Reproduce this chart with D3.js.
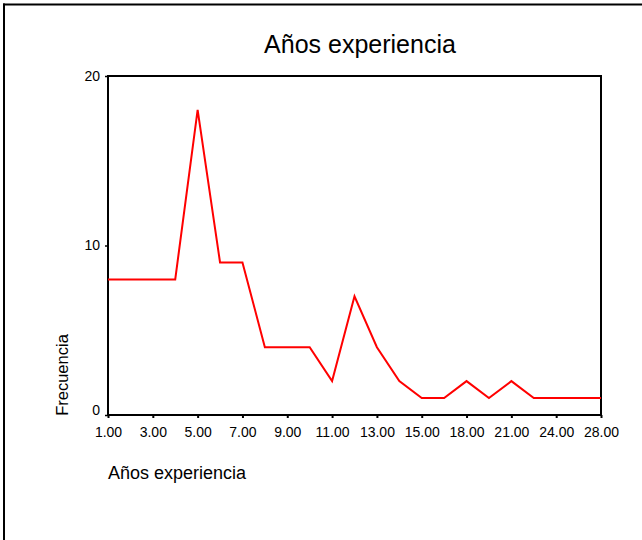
<!DOCTYPE html>
<html>
<head>
<meta charset="utf-8">
<script src="https://cdn.jsdelivr.net/npm/d3@7/dist/d3.min.js"></script>
<style>
  html, body { margin: 0; padding: 0; background: #fff; }
  svg { display: block; }
  text { font-family: "Liberation Sans", Arial, sans-serif; fill: #000; }
</style>
</head>
<body>
<svg id="chart" width="642" height="540"></svg>
<script>
// Data
const categories = [1, 2, 3, 4, 5, 6, 7, 8, 9, 10, 11, 12, 13, 14, 15, 16, 18, 20, 21, 22, 24, 25, 28];
const frequencies = [8, 8, 8, 8, 18, 9, 9, 4, 4, 4, 2, 7, 4, 2, 1, 1, 2, 1, 2, 1, 1, 1, 1];
const xTickLabels = [1, 3, 5, 7, 9, 11, 13, 15, 18, 21, 24, 28];
const yTicks = [0, 10, 20];
const titleText = "Años experiencia";
const xTitle = "Años experiencia";
const yTitle = "Frecuencia";

const svg = d3.select("#chart");
const W = 642, H = 540;
const plot = { left: 108, right: 601, top: 76, bottom: 415 };

// Outer border (top and left only visible)
svg.append("line").attr("x1", 3).attr("x2", W).attr("y1", 4.5).attr("y2", 4.5)
  .attr("stroke", "#000").attr("stroke-width", 2);
svg.append("line").attr("x1", 4).attr("x2", 4).attr("y1", 3.5).attr("y2", H)
  .attr("stroke", "#000").attr("stroke-width", 2);

const x = d3.scalePoint().domain(categories).range([plot.left, plot.right]).padding(0);
const y = d3.scaleLinear().domain([0, 20]).range([plot.bottom, plot.top]);

// Title
svg.append("text").attr("x", 360).attr("y", 53).attr("text-anchor", "middle")
  .style("font-size", "25px").text(titleText);

// X axis
const xAxis = d3.axisBottom(x).tickValues(xTickLabels)
  .tickFormat(d3.format(".2f")).tickSize(3).tickPadding(9);
const gx = svg.append("g").attr("transform", `translate(0,${plot.bottom})`).call(xAxis);
gx.select(".domain").remove();
gx.selectAll(".tick line").attr("stroke", "#000").attr("stroke-width", 2);
gx.selectAll(".tick text").style("font-size", "14px").style("font-family", "'Liberation Sans', Arial, sans-serif");

// Y axis
const yAxis = d3.axisLeft(y).tickValues(yTicks).tickSize(3).tickPadding(5).tickFormat(d3.format("d"));
const gy = svg.append("g").attr("transform", `translate(${plot.left},0)`).call(yAxis);
gy.select(".domain").remove();
gy.selectAll(".tick line").attr("stroke", "#000").attr("stroke-width", 1.5);
gy.selectAll(".tick text").style("font-size", "14px").style("font-family", "'Liberation Sans', Arial, sans-serif");
gy.selectAll(".tick").filter(d => d === 0).select("text").attr("dy", "-0.05em");

// Plot frame
svg.append("rect")
  .attr("x", plot.left).attr("y", plot.top)
  .attr("width", plot.right - plot.left).attr("height", plot.bottom - plot.top)
  .attr("fill", "none").attr("stroke", "#000").attr("stroke-width", 2);

// Line
const line = d3.line().x((d, i) => x(categories[i])).y(d => y(d));
svg.append("path").datum(frequencies)
  .attr("d", line).attr("fill", "none")
  .attr("stroke", "#ff0000").attr("stroke-width", 2).attr("stroke-linejoin", "miter");

// Axis titles
svg.append("text").attr("x", plot.left).attr("y", 479)
  .style("font-size", "18px").text(xTitle);
svg.append("text").attr("transform", "translate(68,375) rotate(-90)")
  .attr("text-anchor", "middle").style("font-size", "16.5px").text(yTitle);
</script>
</body>
</html>
